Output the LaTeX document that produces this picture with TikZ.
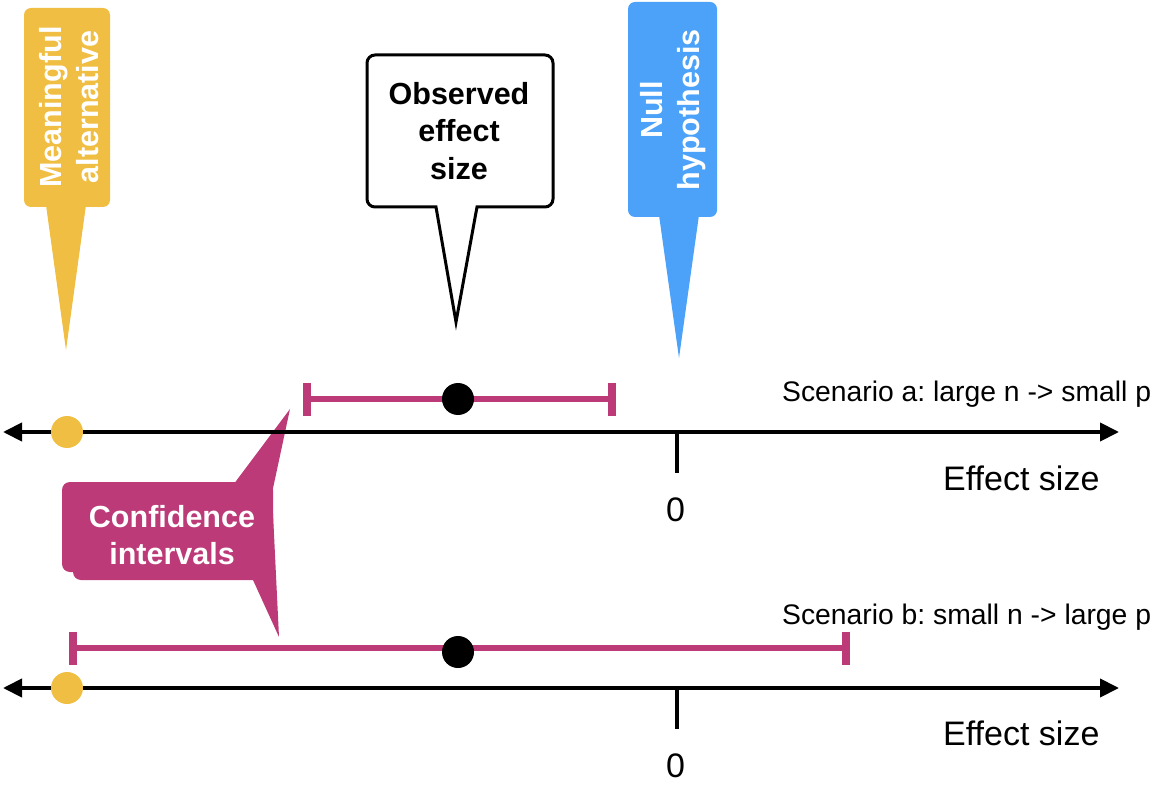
\documentclass[tikz,border=0pt]{standalone}
\usepackage{fontspec}
\setmainfont{Liberation Sans}
\usetikzlibrary{arrows.meta,calc}
\definecolor{myyellow}{HTML}{F0BE42}
\definecolor{myblue}{HTML}{4BA2F8}
\definecolor{mymag}{HTML}{BC3A78}
\frenchspacing
\begin{document}
\begin{tikzpicture}[x=1pt,y=-1pt,
  axis/.style={line width=4pt, {Triangle[length=19pt,width=18pt]}-{Triangle[length=19pt,width=18pt]}},
  tickline/.style={line width=4pt},
  ci/.style={mymag, line width=6pt},
  cibar/.style={mymag, line width=8pt},
  lbl/.style={font=\fontsize{28.3}{34}\selectfont, inner sep=0pt},
  axlbl/.style={font=\fontsize{34}{40}\selectfont, inner sep=0pt},
  callout/.style={font=\fontsize{30.5}{37.5}\selectfont\bfseries, align=center, inner sep=0pt},
  dot/.style={radius=16}
]
\useasboundingbox (0,0) rectangle (1162,794);

% ---- callout shapes ----
% yellow
\fill[myyellow, rounded corners=7pt] (24,8) rectangle (110,207);
\fill[myyellow] (46,205) -- (66,350) -- (86,205) -- cycle;
% blue
\fill[myblue, rounded corners=7pt] (628,2) rectangle (717,217);
\fill[myblue] (659,215) -- (679,358) -- (699,215) -- cycle;
% observed (outlined)
\draw[black, fill=white, line width=3pt, line join=miter]
  (436,207) -- (456,322) -- (477,207) -- (500,207)
  [rounded corners=8pt] -- (553,207) -- (553,55) -- (367,55) -- (367,207) -- (420,207)
  [sharp corners] -- (436,207) -- cycle;
% confidence
\fill[mymag, rounded corners=8pt] (62,482) rectangle (273,572);
\fill[mymag, rounded corners=8pt] (73,490) rectangle (270,580);
\fill[mymag] (235,482.5) -- (290,409) -- (272,493) -- (240,495) -- cycle;
\fill[mymag] (240,579.5) -- (253,580) -- (279,637) -- (272,493) -- (240,493) -- cycle;

% ---- callout texts ----
\node[callout, white, rotate=90] (ma) at (69,107) {Meaningful\\alternative};
\node[callout, white, rotate=90] (nh) at (673,110) {Null\\hypothesis};
\node[callout] (ob) at (459,131) {Observed\\effect\\size};
\node[callout, white] (cf) at (172,535) {Confidence\\intervals};

% ---- scenario a ----
\coordinate (aL) at (3,432);
\coordinate (aR) at (1119,432);
\draw[axis] (aL) -- (aR);
\coordinate (ta) at (677,432);
\coordinate (tae) at (677,473);
\draw[tickline] (ta) -- (tae);
\node[axlbl] (za) at (675.5,510) {0};
\node[axlbl, anchor=base west] (ea) at (943,490) {Effect size};
\node[lbl, anchor=base west] (sa) at (782,401) {Scenario a: large n -> small p};
\coordinate (ciaL) at (307,399);
\coordinate (ciaR) at (612,399);
\draw[ci] (ciaL) -- (ciaR);
\draw[cibar] ($(ciaL)+(0,-16.5)$) -- ($(ciaL)+(0,16.5)$);
\draw[cibar] ($(ciaR)+(0,-16.5)$) -- ($(ciaR)+(0,16.5)$);
\fill[black] (458,399) circle[dot];
\fill[myyellow] (67,432) circle[dot];

% ---- scenario b ----
\coordinate (bL) at (3,688);
\coordinate (bR) at (1119,688);
\draw[axis] (bL) -- (bR);
\coordinate (tb) at (677,688);
\coordinate (tbe) at (677,729);
\draw[tickline] (tb) -- (tbe);
\node[axlbl] (zb) at (675.5,766) {0};
\node[axlbl, anchor=base west] (eb) at (943,745) {Effect size};
\node[lbl, anchor=base west] (sb) at (782,624) {Scenario b: small n -> large p};
\coordinate (cibL) at (73,648);
\coordinate (cibR) at (846,648);
\draw[ci] (cibL) -- (cibR);
\draw[cibar] ($(cibL)+(0,-16.5)$) -- ($(cibL)+(0,16.5)$);
\draw[cibar] ($(cibR)+(0,-16.5)$) -- ($(cibR)+(0,16.5)$);
\fill[black] (458,652) circle[dot];
\fill[myyellow] (67,688) circle[dot];
\end{tikzpicture}
\end{document}
